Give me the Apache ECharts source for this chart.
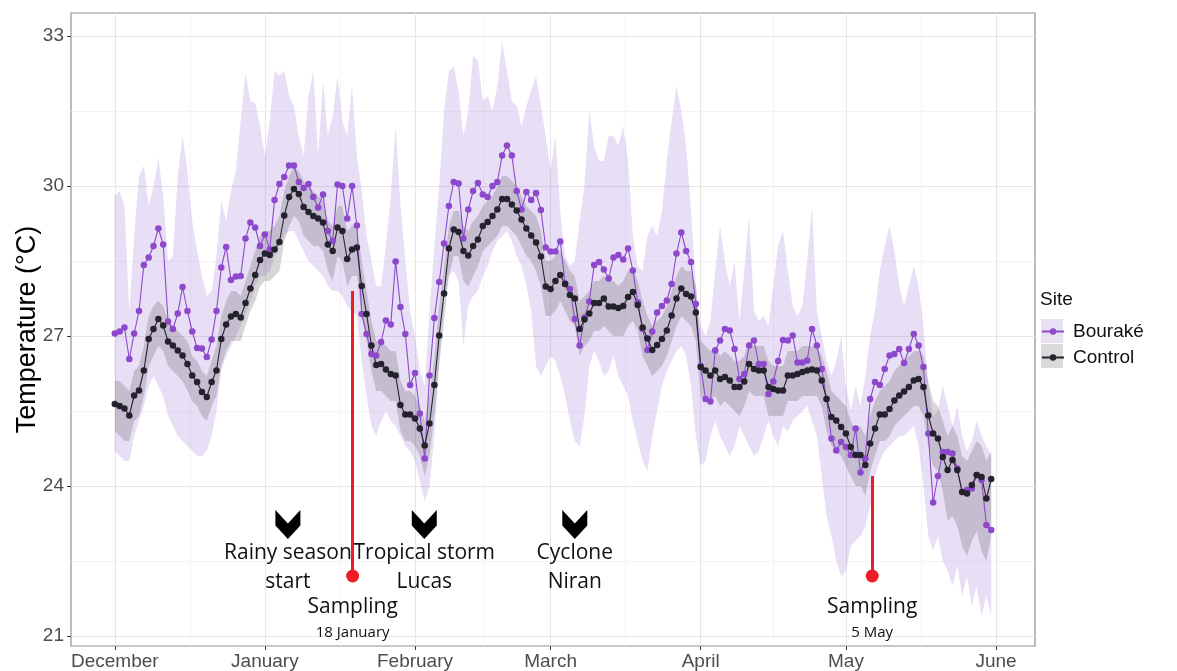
<!DOCTYPE html>
<html lang="en">
<head>
    <meta charset="UTF-8">
    <title>Temperature Bouraké / Control</title>
    <script src="https://cdn.jsdelivr.net/npm/echarts@6/dist/echarts.min.js"></script>
    <style>
        html, body { margin: 0; padding: 0; background: #ffffff; }
        #tempChart { width: 1177px; height: 671px; }
    </style>
</head>
<body>
<div id="tempChart"></div>
<script>
    // daily means from 1 December 2020 to 31 May 2021
    var firstDay = '2020-12-01';

    var bourake = [
        27.05, 27.09, 27.17, 26.54, 27.05, 27.5, 28.42, 28.57, 28.8, 29.15,
        28.83, 27.29, 27.14, 27.45, 27.98, 27.5, 27.09, 26.76, 26.75, 26.58,
        26.93, 27.5, 28.37, 28.78, 28.12, 28.19, 28.2, 28.95, 29.27, 29.17,
        28.8, 29.03, 28.73, 29.72, 30.04, 30.18, 30.41, 30.41, 30.08, 29.96,
        30.04, 29.78, 29.57, 29.83, 29.1, 28.9, 30.03, 30.0, 29.35, 30.0,
        29.21, 27.44, 27.04, 26.64, 26.61, 26.88, 27.31, 27.23, 28.49, 27.58,
        27.04, 26.02, 26.26, 25.45, 24.55, 26.21, 27.36, 28.08, 28.85, 29.6,
        30.08, 30.05, 28.95, 29.53, 29.9, 30.06, 29.83, 29.78, 30.0, 30.08,
        30.61, 30.81, 30.61, 29.9, 29.53, 29.88, 29.72, 29.86, 29.52, 28.77,
        28.69, 28.69, 28.89, 28.05, 27.94, 27.34, 26.81, 27.37, 27.69, 28.42,
        28.48, 28.33, 28.15, 28.57, 28.62, 28.53, 28.75, 28.31, 27.67, 27.14,
        26.72, 27.09, 27.47, 27.6, 27.71, 28.04, 28.65, 29.07, 28.7, 28.48,
        27.64, 26.4, 25.74, 25.69, 26.71, 26.91, 27.14, 27.11, 26.74, 26.14,
        26.24, 26.81, 26.91, 26.44, 26.44, 25.84, 26.09, 26.5, 26.92, 26.91,
        27.01, 26.47, 26.47, 26.51, 27.14, 26.81, 26.34, 25.74, 24.95, 24.71,
        24.88, 24.78, 24.62, 25.15, 24.27, 24.55, 25.74, 26.08, 26.02, 26.34,
        26.61, 26.64, 26.74, 26.46, 26.74, 27.04, 26.81, 26.38, 25.05, 23.67,
        24.2, 24.68, 24.68, 24.65, 24.35, 23.88, 23.92, 23.95, 24.22, 24.12,
        23.22, 23.12
    ];
    var bourakeMin = [
        24.7, 24.6, 24.5, 24.5, 25.0, 25.3, 25.6, 26.0, 26.2, 26.0,
        25.8, 25.4, 25.2, 25.0, 24.9, 24.8, 24.7, 24.6, 24.6, 24.7,
        25.0, 25.5, 26.3, 26.6, 26.8, 27.0, 27.2, 27.4, 27.7, 28.0,
        28.2, 28.2, 28.3, 28.6, 28.8, 29.0, 29.1, 29.1, 28.9, 28.7,
        28.5, 28.4, 28.3, 28.2, 28.0, 27.9, 27.9, 27.8, 27.6, 27.5,
        27.4, 26.5, 25.8, 25.2, 25.0, 25.3, 25.5, 25.3, 25.2, 25.0,
        24.8, 24.7, 24.5, 24.1, 23.7, 24.0, 25.0, 26.5, 27.7, 28.2,
        28.3, 28.1, 26.8, 27.6, 27.8, 27.9, 28.2, 28.4, 28.7, 28.9,
        29.0, 29.1, 28.9, 28.6, 28.4, 28.0, 27.5, 26.4, 26.2, 26.4,
        26.6, 26.5, 26.2, 25.8, 25.3, 24.9, 24.8, 25.4, 26.4, 26.7,
        26.5, 26.2, 26.3, 26.6, 26.2, 26.0, 25.8, 25.3, 24.9, 24.5,
        24.3, 25.0, 25.5, 26.0, 26.3, 26.5, 26.7, 26.8, 26.6, 26.0,
        25.0, 24.4, 24.5, 25.0, 25.3, 25.0, 24.8, 24.6, 24.8, 25.2,
        25.0, 24.8, 24.6, 24.7, 25.0, 25.3, 25.0, 24.8, 25.2, 25.1,
        25.3, 25.4, 25.5, 25.6, 25.3, 25.0, 24.2, 23.4, 23.0, 22.5,
        22.2, 22.3, 22.8, 22.9, 23.0, 23.2, 23.6, 24.2, 24.5, 24.7,
        24.8, 24.9, 25.0, 25.0, 25.1, 25.2, 24.8, 24.0, 23.0, 22.7,
        23.0, 22.5, 22.3, 22.0, 22.4, 21.8, 22.2, 21.6, 22.0, 21.4,
        21.8, 21.4
    ];
    var bourakeMax = [
        29.8, 29.9, 29.6, 27.5, 29.0, 30.2, 30.4, 29.6, 30.0, 30.56,
        29.8, 28.5, 28.6, 30.2, 31.0, 30.3, 29.3, 28.7, 28.2, 27.8,
        27.9, 28.6, 29.7, 29.3, 29.9, 30.3, 31.3, 32.26, 31.7, 31.66,
        31.2, 30.6, 31.3, 32.3, 32.2, 32.3, 31.8, 31.6, 31.0, 30.6,
        31.8, 32.3, 30.6, 32.1, 31.0, 31.4, 32.2, 31.3, 31.0, 32.0,
        30.6, 29.9, 29.0, 28.5, 28.0, 28.0, 28.8, 29.8, 31.2, 29.6,
        28.5, 27.5, 27.0, 26.3, 26.0, 27.5, 28.8, 30.0, 31.5, 32.3,
        32.39, 31.9, 31.0, 31.5, 32.6, 32.5, 31.7, 31.8, 31.5, 32.0,
        32.89, 32.3, 31.7, 31.6, 31.2, 31.6, 31.9, 32.2, 31.6, 31.0,
        30.3, 31.0, 29.5, 28.6, 28.4, 28.5, 29.3, 30.0, 31.5, 30.8,
        30.5, 30.5, 31.0, 31.0, 30.8, 31.2, 30.5, 29.0, 28.4, 28.3,
        29.0, 29.2, 29.0, 29.5, 30.5, 31.3, 32.0, 31.5, 30.8, 29.5,
        28.0, 27.2, 27.0, 27.3, 28.3, 29.2, 28.5, 28.0, 28.5, 27.3,
        28.3, 29.4, 27.5, 27.3, 27.4, 27.2, 28.0, 28.8, 29.1, 28.3,
        27.6, 27.4, 27.6, 28.5, 29.6, 27.5, 27.0, 26.5, 26.2, 26.5,
        27.0, 26.0, 25.5, 26.0, 25.6, 26.2, 27.0, 27.5, 28.3, 28.8,
        29.2, 28.7, 28.0, 27.6, 28.0, 28.4, 28.0, 27.2, 26.0, 25.4,
        25.5, 26.0, 25.6, 25.2, 25.6, 25.0, 24.7, 24.9, 25.3, 25.0,
        24.8, 24.6
    ];

    var control = [
        25.64, 25.6, 25.55, 25.41, 25.81, 25.91, 26.31, 26.94, 27.14, 27.34,
        27.21, 26.89, 26.81, 26.71, 26.61, 26.44, 26.21, 26.08, 25.88, 25.78,
        26.08, 26.31, 26.94, 27.23, 27.39, 27.44, 27.37, 27.66, 27.95, 28.22,
        28.52, 28.65, 28.62, 28.73, 28.88, 29.41, 29.78, 29.94, 29.84, 29.58,
        29.48, 29.4, 29.35, 29.27, 28.83, 28.7, 29.17, 29.1, 28.54, 28.73,
        28.77, 28.0, 27.44, 26.81, 26.42, 26.44, 26.33, 26.24, 26.21, 25.62,
        25.43, 25.43, 25.35, 25.15, 24.81, 25.25, 26.02, 27.01, 27.85, 28.75,
        29.13, 29.08, 28.7, 28.61, 28.8, 28.93, 29.2, 29.28, 29.4, 29.53,
        29.74, 29.74, 29.63, 29.51, 29.33, 29.15, 29.01, 28.87, 28.59, 27.99,
        27.94, 28.1, 28.22, 28.04, 27.82, 27.75, 27.14, 27.33, 27.45, 27.66,
        27.66, 27.75, 27.59, 27.59, 27.56, 27.6, 27.78, 27.88, 27.62, 27.17,
        26.95, 26.72, 26.82, 26.94, 27.11, 27.41, 27.75, 27.95, 27.84, 27.79,
        27.47, 26.38, 26.31, 26.21, 26.31, 26.14, 26.18, 26.11, 25.98, 25.98,
        26.09, 26.44, 26.34, 26.31, 26.31, 25.98, 25.94, 25.91, 25.91, 26.21,
        26.21, 26.24, 26.28, 26.31, 26.33, 26.31, 26.11, 25.74, 25.38, 25.31,
        25.18, 25.05, 24.78, 24.62, 24.62, 24.42, 24.85, 25.15, 25.43, 25.43,
        25.54, 25.71, 25.81, 25.89, 25.98, 26.11, 26.14, 25.98, 25.41, 25.05,
        24.95, 24.58, 24.32, 24.52, 24.32, 23.88, 23.85, 24.02, 24.22, 24.18,
        23.75, 24.14
    ];
    var controlMin = [
        25.1, 25.0, 24.9, 24.9, 25.3, 25.4, 25.8, 26.4, 26.6, 26.8,
        26.7, 26.4, 26.3, 26.2, 26.1, 25.9, 25.7, 25.6, 25.4, 25.3,
        25.6, 25.8, 26.4, 26.7, 26.9, 26.9, 26.9, 27.2, 27.5, 27.7,
        28.0, 28.1, 28.1, 28.2, 28.3, 28.9, 29.2, 29.4, 29.3, 29.0,
        28.9, 28.8, 28.8, 28.7, 28.3, 28.1, 28.6, 28.5, 28.0, 28.2,
        28.2, 27.4, 26.9, 26.3, 25.9, 25.9, 25.8, 25.7, 25.7, 25.1,
        24.9, 24.9, 24.8, 24.6, 24.2, 24.6, 25.4, 26.4, 27.3, 28.2,
        28.6, 28.6, 28.1, 28.0, 28.2, 28.4, 28.7, 28.8, 28.9, 29.0,
        29.2, 29.2, 29.1, 29.0, 28.8, 28.6, 28.5, 28.3, 28.0, 27.4,
        27.4, 27.5, 27.7, 27.5, 27.3, 27.2, 26.6, 26.8, 26.9, 27.1,
        27.1, 27.2, 27.1, 27.0, 27.0, 27.0, 27.2, 27.3, 27.1, 26.6,
        26.4, 26.2, 26.3, 26.4, 26.6, 26.9, 27.2, 27.4, 27.3, 27.2,
        26.9, 25.8, 25.7, 25.7, 25.8, 25.6, 25.7, 25.6, 25.5, 25.4,
        25.6, 25.9, 25.8, 25.8, 25.8, 25.4, 25.4, 25.4, 25.4, 25.7,
        25.7, 25.7, 25.8, 25.8, 25.8, 25.8, 25.6, 25.1, 24.8, 24.7,
        24.6, 24.4, 24.2, 24.0, 24.0, 23.8, 24.3, 24.6, 24.9, 24.9,
        25.0, 25.2, 25.3, 25.4, 25.5, 25.6, 25.6, 25.4, 24.8, 24.4,
        24.3, 23.9, 23.3, 23.4, 23.2, 22.8, 22.6, 22.9, 23.1, 22.7,
        22.5, 23.0
    ];
    var controlMax = [
        26.1, 26.1, 26.0, 25.9, 26.3, 26.4, 26.8, 27.4, 27.6, 27.7,
        27.6, 27.3, 27.2, 27.1, 27.0, 26.9, 26.6, 26.5, 26.3, 26.2,
        26.5, 26.8, 27.4, 27.7, 27.9, 27.9, 27.8, 28.1, 28.4, 28.7,
        29.0, 29.1, 29.1, 29.2, 29.4, 29.9, 30.2, 30.4, 30.3, 30.1,
        30.0, 29.9, 29.8, 29.7, 29.3, 29.2, 29.6, 29.6, 29.1, 29.2,
        29.2, 28.5, 27.9, 27.3, 26.9, 26.9, 26.8, 26.7, 26.7, 26.1,
        25.9, 25.9, 25.8, 25.6, 25.3, 25.8, 26.6, 27.6, 28.4, 29.2,
        29.5, 29.5, 29.2, 29.1, 29.3, 29.4, 29.6, 29.7, 29.8, 30.0,
        30.2, 30.2, 30.1, 30.0, 29.8, 29.6, 29.5, 29.4, 29.1, 28.5,
        28.5, 28.6, 28.7, 28.5, 28.3, 28.2, 27.7, 27.8, 27.9, 28.1,
        28.1, 28.2, 28.1, 28.1, 28.0, 28.1, 28.3, 28.4, 28.1, 27.7,
        27.4, 27.2, 27.3, 27.4, 27.6, 27.9, 28.2, 28.4, 28.3, 28.3,
        28.0, 26.9, 26.8, 26.7, 26.8, 26.6, 26.7, 26.6, 26.5, 26.5,
        26.6, 26.9, 26.8, 26.8, 26.8, 26.5, 26.4, 26.4, 26.4, 26.7,
        26.7, 26.7, 26.8, 26.8, 26.8, 26.8, 26.6, 26.3, 25.9, 25.8,
        25.7, 25.6, 25.3, 25.1, 25.2, 25.0, 25.4, 25.7, 25.9, 26.0,
        26.1, 26.3, 26.4, 26.5, 26.6, 26.7, 26.7, 26.6, 26.1, 25.7,
        25.6, 25.3, 25.0, 25.2, 25.0, 24.6, 24.5, 24.7, 24.9, 24.8,
        24.5, 24.7
    ];

    var monthTicks = ['2020-12-01', '2021-01-01', '2021-02-01', '2021-03-01', '2021-04-01', '2021-05-01', '2021-06-01'];
    var monthNames = ['December', 'January', 'February', 'March', 'April', 'May', 'June'];
    var monthMinor = ['2020-12-16 12:00', '2021-01-16 12:00', '2021-02-15', '2021-03-16 12:00', '2021-04-16', '2021-05-16 12:00'];
    var tempTicks = [21, 24, 27, 30, 33];
    var tempMinor = [22.5, 25.5, 28.5, 31.5];

    var events = [
        { date: '2021-01-05 18:00', label: 'Rainy season\nstart' },
        { date: '2021-02-02 22:00', label: 'Tropical storm\nLucas' },
        { date: '2021-03-06', label: 'Cyclone\nNiran' }
    ];
    var eventLevel = 23.23;

    var samplings = [
        { date: '2021-01-19 03:00', top: 27.9, label: '18 January' },
        { date: '2021-05-06 10:00', top: 24.2, label: '5 May' }
    ];
    var samplingLevel = 22.2;

    // local time stamps
    function toTime(s) {
        var p = s.split(/[- :]/).map(Number);
        return new Date(p[0], p[1] - 1, p[2], p[3] || 0, p[4] || 0).getTime();
    }

    var d0 = firstDay.split('-').map(Number);
    var days = [];
    for (var i = 0; i < bourake.length; i++) {
        days.push(new Date(d0[0], d0[1] - 1, d0[2] + i).getTime());
    }
    var monthTimes = monthTicks.map(toTime);

    var PURPLE = '#8d48cc';
    var DARK = '#23222d';
    var RED = '#ee1c24';
    var TXT = '#111111';
    var majorGrid = { color: '#e6e6e6', width: 1.1, type: 'solid' };
    var minorGrid = { color: '#f1f1f1', width: 0.8, type: 'solid' };

    var gridLines = [];
    tempTicks.forEach(function (v) { gridLines.push({ yAxis: v, lineStyle: majorGrid }); });
    tempMinor.forEach(function (v) { gridLines.push({ yAxis: v, lineStyle: minorGrid }); });
    monthTimes.forEach(function (v) { gridLines.push({ xAxis: v, lineStyle: majorGrid }); });
    monthMinor.forEach(function (s) { gridLines.push({ xAxis: toTime(s), lineStyle: minorGrid }); });

    function ribbon(name, lo, hi, fill) {
        return {
            type: 'custom',
            name: name,
            silent: true,
            z: 2,
            data: days.map(function (d, k) { return [d, lo[k], hi[k]]; }),
            encode: { x: 0, y: [1, 2] },
            renderItem: function (params, api) {
                if (params.dataIndex !== 0) return null;
                var pts = [];
                for (var k = 0; k < days.length; k++) pts.push(api.coord([days[k], hi[k]]));
                for (var j = days.length - 1; j >= 0; j--) pts.push(api.coord([days[j], lo[j]]));
                return { type: 'polygon', shape: { points: pts }, style: { fill: fill } };
            }
        };
    }

    function pairs(values) {
        return days.map(function (d, k) { return [d, values[k]]; });
    }

    // line for the legend and the path, scatter for the daily dots
    function siteSeries(name, values, color, z) {
        return [{
            type: 'line',
            name: name,
            data: pairs(values),
            z: z,
            silent: true,
            symbol: 'circle',
            symbolSize: 6.5,
            showSymbol: false,
            lineStyle: { color: color, width: 1.1 },
            itemStyle: { color: color }
        }, {
            type: 'scatter',
            name: name,
            data: pairs(values),
            z: z,
            silent: true,
            symbol: 'circle',
            symbolSize: 6.5,
            itemStyle: { color: color, opacity: 1 }
        }];
    }

    var chevron = 'path://M0,0 L50,40 L100,0 L100,46 L50,86 L0,46 Z';

    var myChart = echarts.init(document.getElementById('tempChart'));

    var option = {
        animation: false,
        backgroundColor: '#ffffff',
        title: {
            text: 'Site',
            left: 1040,
            top: 290,
            padding: 0,
            textStyle: { fontFamily: 'Liberation Sans', fontSize: 19, fontWeight: 'normal', color: TXT }
        },
        legend: {
            data: ['Bouraké', 'Control'],
            orient: 'vertical',
            left: 1041,
            top: 322,
            padding: 0,
            itemWidth: 22,
            itemHeight: 8,
            itemGap: 7,
            z: 5,
            textStyle: { fontFamily: 'Liberation Sans', fontSize: 19, color: TXT, lineHeight: 18, padding: [0, 0, 0, 4] }
        },
        graphic: [
            { type: 'rect', left: 1041, top: 319, z: 0, shape: { width: 22, height: 24 }, style: { fill: '#e8e0f3' } },
            { type: 'rect', left: 1041, top: 344, z: 0, shape: { width: 22, height: 24 }, style: { fill: '#d9d9d9' } }
        ],
        grid: {
            left: 71,
            right: 142,
            top: 13,
            bottom: 23,
            show: true,
            borderColor: '#8f8f8f',
            borderWidth: 1.2,
            backgroundColor: '#ffffff'
        },
        // dates as plain time stamps on a linear axis, month labels come from monthNames
        xAxis: {
            type: 'value',
            min: toTime('2020-11-21 23:00'),
            max: toTime('2021-06-09 01:00'),
            axisLine: { show: false },
            splitLine: { show: false },
            axisTick: { show: true, customValues: monthTimes, length: 4, lineStyle: { color: '#333333' } },
            axisLabel: {
                customValues: monthTimes,
                margin: 6,
                fontFamily: 'Liberation Sans',
                fontSize: 19,
                color: '#4d4d4d',
                formatter: function (v) { return monthNames[monthTimes.indexOf(v)] || ''; }
            }
        },
        yAxis: {
            type: 'value',
            min: 20.8,
            max: 33.46,
            name: 'Temperature (°C)',
            nameLocation: 'middle',
            nameGap: 30,
            nameMoveOverlap: false,
            nameTextStyle: { fontFamily: 'Liberation Sans', fontSize: 27, color: '#000000' },
            axisLine: { show: false },
            splitLine: { show: false },
            axisTick: { show: true, customValues: tempTicks, length: 4, lineStyle: { color: '#333333' } },
            axisLabel: {
                customValues: tempTicks,
                margin: 7,
                fontFamily: 'Liberation Sans',
                fontSize: 19,
                color: '#4d4d4d'
            }
        },
        series: [
            {
                type: 'line',
                name: 'gridlines',
                data: [],
                z: 1,
                silent: true,
                markLine: {
                    z: 1,
                    silent: true,
                    symbol: ['none', 'none'],
                    label: { show: false },
                    emphasis: { disabled: true },
                    animation: false,
                    data: gridLines
                }
            },
            ribbon('Bouraké range', bourakeMin, bourakeMax, 'rgba(150, 105, 210, 0.22)'),
            ribbon('Control range', controlMin, controlMax, 'rgba(95, 95, 100, 0.26)')
        ].concat(siteSeries('Bouraké', bourake, PURPLE, 3), siteSeries('Control', control, DARK, 3), [
            {
                type: 'scatter',
                name: 'events',
                z: 4,
                silent: true,
                data: events.map(function (e) { return [toTime(e.date), eventLevel, e.label]; }),
                symbol: chevron,
                symbolSize: [25, 29],
                itemStyle: { color: '#000000', opacity: 1 },
                label: {
                    show: true,
                    position: 'bottom',
                    distance: 0,
                    formatter: function (p) { return p.data[2]; },
                    fontFamily: 'Open Sans',
                    fontSize: 21,
                    lineHeight: 29,
                    color: TXT
                }
            },
            {
                type: 'scatter',
                name: 'sampling',
                z: 4,
                silent: true,
                data: samplings.map(function (s) { return [toTime(s.date), samplingLevel, s.label]; }),
                symbol: 'circle',
                symbolSize: 13,
                itemStyle: { color: RED, opacity: 1 },
                label: {
                    show: true,
                    position: 'bottom',
                    distance: 11,
                    formatter: function (p) { return '{a|Sampling}\n{b|' + p.data[2] + '}'; },
                    rich: {
                        a: { fontFamily: 'Open Sans', fontSize: 21, lineHeight: 28, color: TXT, align: 'center' },
                        b: { fontFamily: 'Open Sans', fontSize: 15, lineHeight: 22, color: TXT, align: 'center' }
                    }
                },
                markLine: {
                    silent: true,
                    symbol: ['none', 'none'],
                    label: { show: false },
                    emphasis: { disabled: true },
                    lineStyle: { color: RED, width: 3, type: 'solid', opacity: 1 },
                    data: samplings.map(function (s) {
                        return [{ coord: [toTime(s.date), s.top] }, { coord: [toTime(s.date), samplingLevel] }];
                    })
                }
            }
        ])
    };
    myChart.setOption(option);
</script>
</body>
</html>
